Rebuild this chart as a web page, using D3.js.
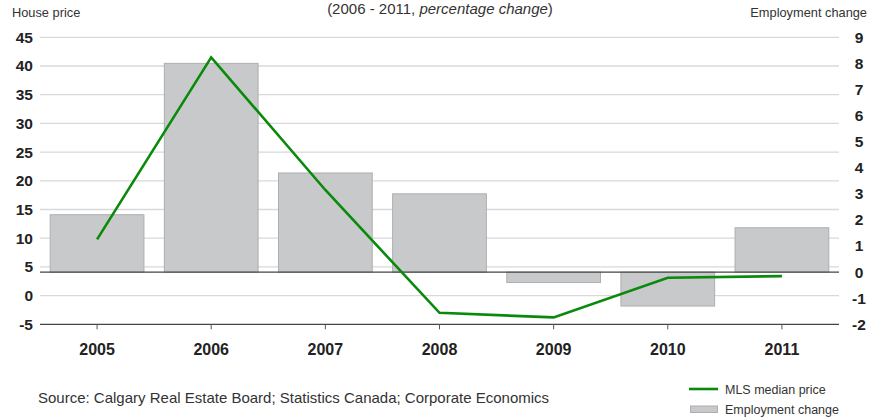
<!DOCTYPE html>
<html>
<head>
<meta charset="utf-8">
<script src="https://cdn.jsdelivr.net/npm/d3@7"></script>
<style>
  html, body { margin: 0; padding: 0; background: #fff; }
  svg { display: block; font-family: "Liberation Sans", Arial, sans-serif; }
</style>
</head>
<body>
<svg id="chart" width="881" height="417"></svg>
<script>
// Calgary: MLS median house price vs employment change, yearly % change
const years = ["2005", "2006", "2007", "2008", "2009", "2010", "2011"];
const housePrice = [9.8, 41.5, 18.4, -3.0, -3.8, 3.1, 3.4];      // left axis
const employmentChange = [2.2, 8.0, 3.8, 3.0, -0.4, -1.3, 1.7];  // right axis
const leftTicks = [45, 40, 35, 30, 25, 20, 15, 10, 5, 0, -5];
const rightTicks = [9, 8, 7, 6, 5, 4, 3, 2, 1, 0, -1, -2];

const svg = d3.select("#chart");
const plot = { left: 40, right: 839, top: 37.3, bottom: 324.3 };
const FONT = "Liberation Sans, Arial, sans-serif";

const x = d3.scaleBand()
  .domain(years)
  .range([plot.left, plot.right])
  .paddingInner(0.17)
  .paddingOuter(0.085);

const yL = d3.scaleLinear().domain([-5, 45]).range([plot.bottom, plot.top]);
const yR = d3.scaleLinear().domain([-2, 9]).range([plot.bottom, plot.top]);

// horizontal gridlines on the house-price scale
svg.append("g")
  .selectAll("line")
  .data(leftTicks.filter(d => d !== -5))
  .join("line")
  .attr("x1", plot.left).attr("x2", plot.right)
  .attr("y1", d => yL(d)).attr("y2", d => yL(d))
  .attr("stroke", "#d9d9d9")
  .attr("stroke-width", 1.3);

// employment bars, from zero on the right scale
svg.append("g")
  .selectAll("rect")
  .data(years.map((y, i) => ({ year: y, v: employmentChange[i] })))
  .join("rect")
  .attr("x", d => x(d.year) + 0.5)
  .attr("width", x.bandwidth() - 1)
  .attr("y", d => yR(Math.max(0, d.v)))
  .attr("height", d => Math.abs(yR(d.v) - yR(0)))
  .attr("fill", "#c8c9cb")
  .attr("stroke", "#adaeb1")
  .attr("stroke-width", 1);

// zero line of the employment scale
svg.append("line")
  .attr("x1", plot.left).attr("x2", plot.right)
  .attr("y1", yR(0)).attr("y2", yR(0))
  .attr("stroke", "#444").attr("stroke-width", 1.3);

// bottom axis with ticks at the category centres
const xAxis = d3.axisBottom(x).tickSize(5).tickSizeOuter(0).tickPadding(12);
const gx = svg.append("g")
  .attr("transform", `translate(0,${plot.bottom})`)
  .call(xAxis);
gx.select(".domain").attr("stroke", "#444").attr("stroke-width", 1.3)
  .attr("d", `M${plot.left},0H${plot.right}`);
gx.selectAll(".tick line").attr("stroke", "#555");
gx.selectAll(".tick text")
  .attr("font-family", FONT)
  .attr("font-size", 16).attr("font-weight", "bold").attr("fill", "#222")
  .attr("dy", "0.85em");

// left axis (house price)
const gl = svg.append("g")
  .attr("transform", `translate(33,0)`)
  .call(d3.axisLeft(yL).tickValues(leftTicks).tickFormat(d => String(d))
    .tickSize(0).tickPadding(0));
gl.select(".domain").remove();
gl.selectAll(".tick text")
  .attr("font-family", FONT)
  .attr("font-size", 15.5).attr("font-weight", "bold").attr("fill", "#222");

// right axis (employment change)
const gr = svg.append("g")
  .attr("transform", `translate(859,0)`)
  .call(d3.axisRight(yR).tickValues(rightTicks).tickFormat(d => String(d))
    .tickSize(0).tickPadding(0));
gr.select(".domain").remove();
gr.selectAll(".tick text")
  .attr("text-anchor", "middle")
  .attr("font-family", FONT)
  .attr("font-size", 15.5).attr("font-weight", "bold").attr("fill", "#222");

// house price line
const line = d3.line()
  .x((d, i) => x(years[i]) + x.bandwidth() / 2)
  .y(d => yL(d));
svg.append("path")
  .datum(housePrice)
  .attr("d", line)
  .attr("fill", "none")
  .attr("stroke", "#0a8a0a")
  .attr("stroke-width", 2.6)
  .attr("stroke-linejoin", "miter");

// axis titles and subtitle
svg.append("text").attr("x", 12).attr("y", 17)
  .attr("font-size", 12.8).attr("fill", "#333").text("House price");
svg.append("text").attr("x", 867).attr("y", 17).attr("text-anchor", "end")
  .attr("font-size", 12.8).attr("fill", "#333").text("Employment change");
const sub = svg.append("text").attr("x", 440).attr("y", 14).attr("text-anchor", "middle")
  .attr("font-size", 15).attr("fill", "#333");
sub.append("tspan").text("(2006 - 2011, ");
sub.append("tspan").attr("font-style", "italic").text("percentage change");
sub.append("tspan").text(")");

// source note
svg.append("text").attr("x", 38).attr("y", 403)
  .attr("font-size", 15).attr("fill", "#333")
  .text("Source: Calgary Real Estate Board; Statistics Canada; Corporate Economics");

// legend
const legend = svg.append("g");
legend.append("line")
  .attr("x1", 689).attr("x2", 718).attr("y1", 389).attr("y2", 389)
  .attr("stroke", "#0a8a0a").attr("stroke-width", 2.6);
legend.append("text").attr("x", 725).attr("y", 393.5)
  .attr("font-size", 12.5).attr("fill", "#333").text("MLS median price");
legend.append("rect")
  .attr("x", 690.5).attr("y", 406).attr("width", 27).attr("height", 6.5)
  .attr("fill", "#c8c9cb").attr("stroke", "#adaeb1").attr("stroke-width", 1);
legend.append("text").attr("x", 725).attr("y", 413.5)
  .attr("font-size", 12.5).attr("fill", "#333").text("Employment change");
</script>
</body>
</html>
